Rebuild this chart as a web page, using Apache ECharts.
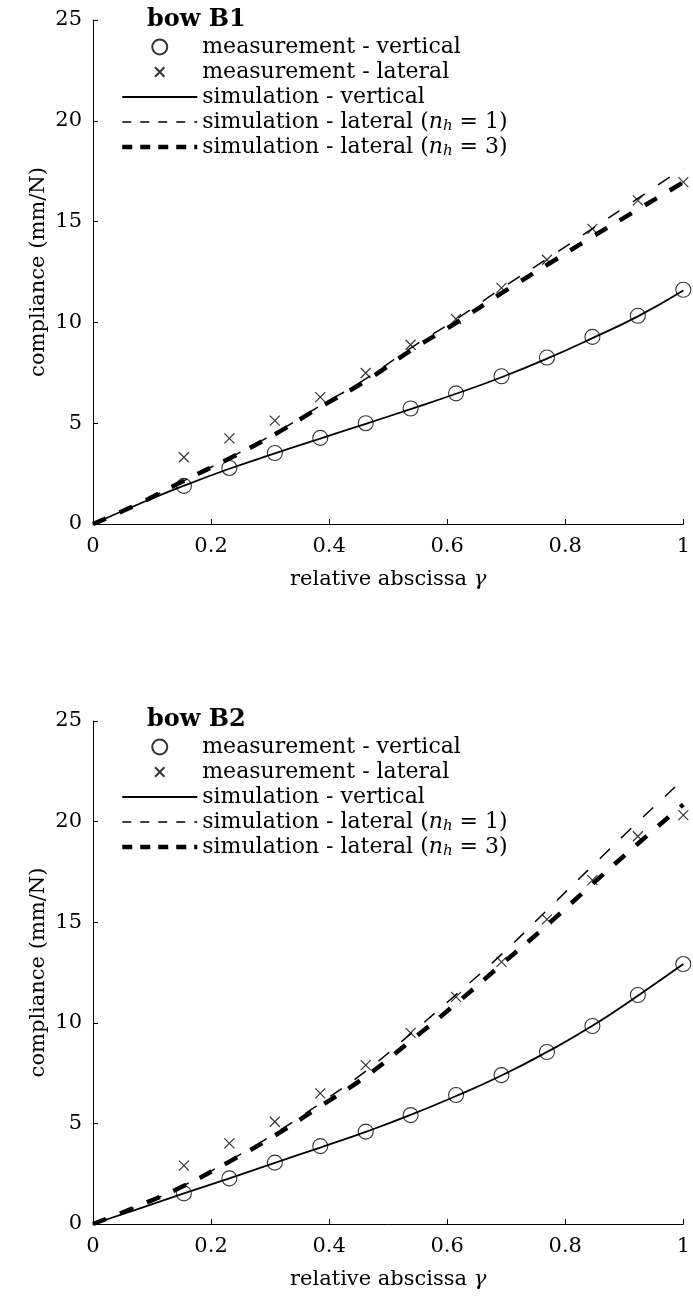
<!DOCTYPE html>
<html>
<head>
<meta charset="utf-8">
<script src="https://cdn.jsdelivr.net/npm/echarts@6/dist/echarts.min.js"></script>
<style>
  html, body { margin: 0; padding: 0; background: #fff; }
  #myChart { width: 693px; height: 1302px; }
</style>
</head>
<body>
<div id="myChart"></div>
<script>
// x positions (relative abscissa gamma)
const simX = [0, 0.077, 0.154, 0.231, 0.308, 0.385, 0.462, 0.538, 0.615, 0.692, 0.769, 0.846, 0.923, 1];
const measX = [0.154, 0.231, 0.308, 0.385, 0.462, 0.538, 0.615, 0.692, 0.769, 0.846, 0.923, 1];

// bow B1
const b1MeasVert = [1.89, 2.78, 3.52, 4.27, 5.0, 5.73, 6.48, 7.33, 8.26, 9.28, 10.33, 11.62];
const b1MeasLat = [3.31, 4.25, 5.13, 6.29, 7.49, 8.89, 10.17, 11.71, 13.11, 14.64, 16.05, 16.96];
const b1SimVert = [0, 0.98, 1.9, 2.74, 3.5, 4.24, 4.97, 5.7, 6.46, 7.28, 8.2, 9.22, 10.3, 11.58];
const b1SimLat1 = [0, 1.0, 2.15, 3.28, 4.5, 5.87, 7.2, 8.72, 10.15, 11.68, 13.15, 14.65, 16.15, 17.65];
const b1SimLat3 = [0, 1.0, 2.15, 3.25, 4.45, 5.8, 7.1, 8.6, 9.98, 11.45, 12.85, 14.25, 15.6, 16.95];

// bow B2
const b2MeasVert = [1.52, 2.27, 3.05, 3.87, 4.59, 5.41, 6.41, 7.4, 8.55, 9.84, 11.38, 12.92];
const b2MeasLat = [2.9, 4.01, 5.08, 6.49, 7.9, 9.5, 11.29, 13.03, 15.14, 17.09, 19.27, 20.32];
const b2SimVert = [0, 0.75, 1.52, 2.27, 3.04, 3.8, 4.58, 5.42, 6.36, 7.38, 8.55, 9.85, 11.35, 12.92];
const b2SimLat1 = [0, 0.9, 1.92, 3.15, 4.5, 6.0, 7.6, 9.45, 11.4, 13.4, 15.6, 17.8, 19.98, 22.1];
const b2SimLat3 = [0, 0.9, 1.9, 3.1, 4.4, 5.85, 7.33, 9.1, 10.95, 12.9, 14.85, 16.9, 18.9, 20.85];

const xTicks = [0, 0.2, 0.4, 0.6, 0.8, 1];
const yTicks = [0, 5, 10, 15, 20, 25];

const names = [
  'measurement - vertical',
  'measurement - lateral',
  'simulation - vertical',
  'simulation - lateral (nh = 1)',
  'simulation - lateral (nh = 3)'
];

const FONT = 'DejaVu Serif';
const FS = 22;
// cross marker, padded so the strokes fill about 10/16 of the symbol box
const crossPath = 'path://M0,0M3,3L13,13M13,3L3,13M16,16';
const hidden = { color: 'rgba(0,0,0,0)', borderColor: 'rgba(0,0,0,0)', borderWidth: 0 };

function pairs(xs, ys) {
  return xs.map((x, i) => [x, ys[i]]);
}

function makeAxes(idx) {
  const x = {
    type: 'value', gridIndex: idx, min: xTicks[0], max: xTicks[xTicks.length - 1], interval: 0.2,
    name: '{n|relative abscissa }{g|γ}',
    nameLocation: 'middle', nameGap: 45,
    nameTextStyle: {
      rich: {
        n: { fontFamily: FONT, fontSize: 21, color: '#000' },
        g: { fontFamily: FONT, fontSize: 21, fontStyle: 'italic', color: '#000' }
      }
    },
    axisLine: { lineStyle: { color: '#000', width: 1 } },
    axisTick: { inside: true, length: 5, lineStyle: { color: '#000' } },
    axisLabel: { color: '#000', fontFamily: FONT, fontSize: 21, margin: 12 },
    splitLine: { show: false }
  };
  const y = {
    type: 'value', gridIndex: idx, min: yTicks[0], max: yTicks[yTicks.length - 1], interval: 5,
    name: 'compliance (mm/N)',
    nameLocation: 'middle', nameGap: 44, nameMoveOverlap: false,
    nameTextStyle: { color: '#000', fontFamily: FONT, fontSize: 21 },
    axisLine: { show: true, lineStyle: { color: '#000', width: 1 } },
    axisTick: { show: true, inside: true, length: 5, lineStyle: { color: '#000' } },
    axisLabel: { color: '#000', fontFamily: FONT, fontSize: 21, margin: 11 },
    splitLine: { show: false }
  };
  return [x, y];
}

function makeSeries(idx, mv, ml, sv, s1, s3) {
  return [{
    name: names[2], type: 'line', xAxisIndex: idx, yAxisIndex: idx,
    data: pairs(simX, sv), smooth: true, symbol: 'none',
    lineStyle: { color: '#000', width: 1.8 }, itemStyle: { color: '#000' }
  }, {
    name: names[3], type: 'line', xAxisIndex: idx, yAxisIndex: idx,
    data: pairs(simX, s1), smooth: true, symbol: 'none',
    lineStyle: { color: '#000', width: 1.5, type: [14, 16] }, itemStyle: { color: '#000' }
  }, {
    name: names[4], type: 'line', xAxisIndex: idx, yAxisIndex: idx,
    data: pairs(simX, s3), smooth: true, symbol: 'none',
    lineStyle: { color: '#000', width: 4.5, type: [14, 15] }, itemStyle: { color: '#000' }
  }, {
    name: names[0], type: 'scatter', xAxisIndex: idx, yAxisIndex: idx,
    data: pairs(measX, mv), symbol: 'circle', symbolSize: 15,
    itemStyle: { color: 'rgba(0,0,0,0)', borderColor: '#000', borderWidth: 1.1 }
  }, {
    name: names[1], type: 'scatter', xAxisIndex: idx, yAxisIndex: idx,
    data: pairs(measX, ml), symbol: crossPath, symbolSize: 16,
    itemStyle: { color: 'rgba(0,0,0,0)', borderColor: '#000', borderWidth: 1.2 }
  }];
}

function makeLegend(top) {
  return {
    orient: 'vertical', left: 120, top: top, padding: 0,
    itemWidth: 75, itemHeight: 15, itemGap: 1,
    data: [
      { name: names[0] },
      { name: names[1] },
      { name: names[2], lineStyle: { width: 1.8 }, itemStyle: hidden },
      { name: names[3], lineStyle: { width: 1.5, type: [9, 9] }, itemStyle: hidden },
      { name: names[4], lineStyle: { width: 4.5, type: [10, 8] }, itemStyle: hidden }
    ],
    selectedMode: false,
    formatter: function (name) {
      const m = name.match(/^(.*)\(nh = (\d)\)$/);
      if (m) {
        return '{t|' + m[1] + '(}{it|n}{sub|h}{t| = ' + m[2] + ')}';
      }
      return '{t|' + name + '}';
    },
    textStyle: {
      color: '#000', fontFamily: FONT, fontSize: FS, lineHeight: 24,
      rich: {
        t: { fontFamily: FONT, fontSize: FS, lineHeight: 24, color: '#000' },
        it: { fontFamily: FONT, fontSize: FS, lineHeight: 24, fontStyle: 'italic', color: '#000' },
        sub: { fontFamily: FONT, fontSize: 15, lineHeight: 24, fontStyle: 'italic', color: '#000', verticalAlign: 'bottom', padding: [6, 0, 0, 0] }
      }
    }
  };
}

const myChart = echarts.init(document.getElementById('myChart'), null, { renderer: 'canvas' });
const ax1 = makeAxes(0);
const ax2 = makeAxes(1);

let option = {
  animation: false,
  backgroundColor: '#fff',
  title: [
    { text: 'bow B1', left: 147, top: 8, padding: 0, textStyle: { fontFamily: FONT, fontSize: 24, fontWeight: 'bold', color: '#000' } },
    { text: 'bow B2', left: 147, top: 708, padding: 0, textStyle: { fontFamily: FONT, fontSize: 24, fontWeight: 'bold', color: '#000' } }
  ],
  legend: [makeLegend(35), makeLegend(735)],
  grid: [
    { left: 93, right: 7, top: 20, height: 504 },
    { left: 93, right: 7, top: 721, height: 503 }
  ],
  xAxis: [ax1[0], ax2[0]],
  yAxis: [ax1[1], ax2[1]],
  series: [].concat(
    makeSeries(0, b1MeasVert, b1MeasLat, b1SimVert, b1SimLat1, b1SimLat3),
    makeSeries(1, b2MeasVert, b2MeasLat, b2SimVert, b2SimLat1, b2SimLat3)
  )
};
myChart.setOption(option);
</script>
</body>
</html>
